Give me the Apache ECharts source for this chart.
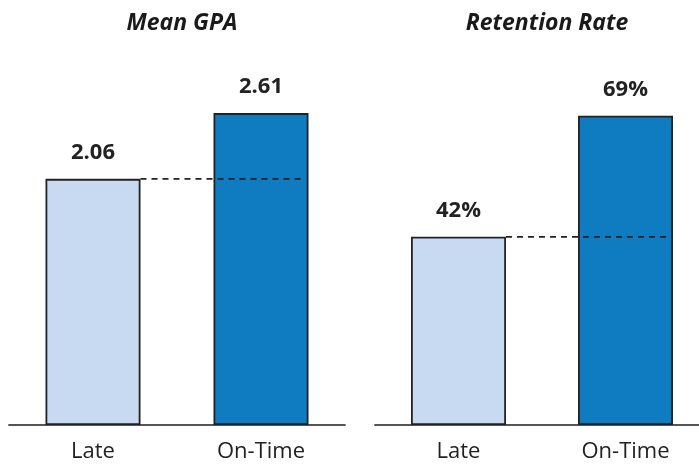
<!DOCTYPE html>
<html>
<head>
<meta charset="utf-8">
<script src="https://cdn.jsdelivr.net/npm/echarts@6/dist/echarts.min.js"></script>
<style>
  html, body { margin: 0; padding: 0; background: #fff; overflow: hidden; }
  #main { width: 712px; height: 464px; }
</style>
</head>
<body>
<div id="main"></div>
<script>
const categories = ['Late', 'On-Time'];
const panelTitles = ['Mean GPA', 'Retention Rate'];
const gpaValues = [2.06, 2.61];
const retentionValues = [42, 69];

const LIGHT = '#C8DAF1';
const DARK = '#0F7BC1';
const INK = '#222222';
const BAR_W = 95;
const FONT = '"Open Sans", "Noto Sans", sans-serif';

// the right panel runs a little past the picture's edge, so the canvas is wider than the window
const chart = echarts.init(document.getElementById('main'));

function bars(values, idx, fmt) {
  return {
    type: 'bar',
    xAxisIndex: idx,
    yAxisIndex: idx,
    barWidth: BAR_W,
    data: values.map((v, i) => ({
      value: v,
      itemStyle: {color: i === 0 ? LIGHT : DARK}
    })),
    itemStyle: {borderColor: INK, borderWidth: 1.8},
    label: {
      show: true,
      position: 'top',
      distance: 15,
      color: INK,
      fontFamily: FONT,
      fontWeight: 'bold',
      fontSize: 22,
      formatter: p => fmt(p.value)
    },
    z: 2
  };
}

// dashed reference line at the Late value, drawn from the Late bar's right edge across the On-Time bar
function refLine(values, idx) {
  return {
    type: 'custom',
    xAxisIndex: idx,
    yAxisIndex: idx,
    data: [[0, values[0]]],
    renderItem(params, api) {
      const v = api.value(1);
      const a = api.coord([0, v]);
      const b = api.coord([1, v]);
      return {
        type: 'line',
        shape: {x1: a[0] + BAR_W / 2, y1: a[1], x2: b[0] + BAR_W / 2 - 3, y2: b[1]},
        style: {stroke: '#222', lineWidth: 1.7, lineDash: [6, 5]}
      };
    },
    z: 5
  };
}

function xAxis(idx) {
  return {
    type: 'category',
    gridIndex: idx,
    data: categories,
    axisTick: {show: false},
    axisLine: {lineStyle: {color: '#555', width: 1.8}},
    axisLabel: {color: INK, fontFamily: FONT, fontSize: 22, margin: 16}
  };
}

function yAxis(idx, max) {
  return {
    type: 'value',
    gridIndex: idx,
    min: 0,
    max: max,
    show: false,
    splitLine: {show: false}
  };
}

chart.setOption({
  animation: false,
  textStyle: {fontFamily: FONT},
  title: panelTitles.map((t, i) => ({
    text: t,
    left: i === 0 ? 177 : 542,
    top: 7,
    textAlign: 'center',
    textStyle: {fontFamily: FONT, fontSize: 23, fontWeight: 'bold', fontStyle: 'italic', color: '#1a1a1a'}
  })),
  grid: [
    {left: 9, width: 336, top: 66.5, bottom: 39},
    {left: 375, width: 334, top: 66.5, bottom: 39}
  ],
  xAxis: [xAxis(0), xAxis(1)],
  yAxis: [yAxis(0, 3), yAxis(1, 80)],
  series: [
    bars(gpaValues, 0, v => v.toFixed(2)),
    refLine(gpaValues, 0),
    bars(retentionValues, 1, v => v + '%'),
    refLine(retentionValues, 1)
  ]
});
</script>
</body>
</html>
